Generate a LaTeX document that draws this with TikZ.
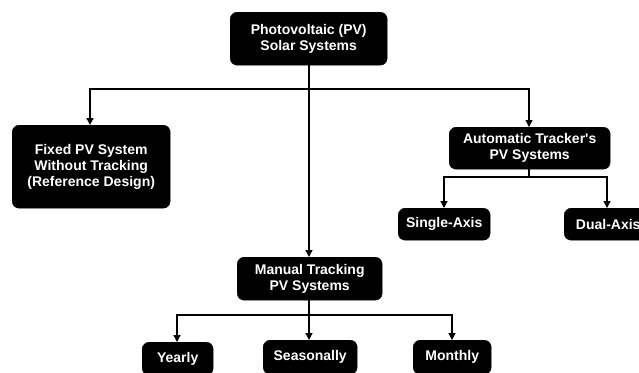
\documentclass[tikz,border=0pt]{standalone}
\usepackage{fontspec}
\setmainfont{Liberation Sans}
\usetikzlibrary{arrows.meta}
\begin{document}
\begin{tikzpicture}[x=1pt,y=-1pt,
  box/.style={draw=black,fill=black,text=white,rounded corners=7pt,font=\bfseries\fontsize{14}{16}\selectfont,align=center,inner sep=0pt,anchor=north west},
  conn/.style={line width=1.3pt,draw=black},
  arr/.style={conn,-{Triangle[length=7pt,width=7pt]}}]
\useasboundingbox (0,0) rectangle (639,372);
\clip (0,0) rectangle (639,372);
\node[box,minimum width=157pt,minimum height=53pt] (pv) at (230,12) {Photovoltaic (PV)\\Solar Systems};
\node[box,minimum width=158pt,minimum height=83pt] (fixed) at (12,125) {Fixed PV System\\Without Tracking\\(Reference Design)};
\node[box,minimum width=161pt,minimum height=42pt] (auto) at (449,127) {Automatic Tracker\textquotesingle s\\PV Systems};
\node[box,minimum width=92pt,minimum height=32pt] (single) at (398,208) {Single-Axis};
\node[box,minimum width=88pt,minimum height=32pt] (dual) at (564,208) {Dual-Axis};
\node[box,minimum width=145pt,minimum height=43pt] (manual) at (237,257) {Manual Tracking\\PV Systems};
\node[box,minimum width=71pt,minimum height=33pt] (yearly) at (142,342) {Yearly};
\node[box,minimum width=94pt,minimum height=34pt] (season) at (263,340) {Seasonally};
\node[box,minimum width=78pt,minimum height=34pt] (monthly) at (413,340) {Monthly};
\coordinate (j1) at (309,89);
\coordinate (j2) at (529,177);
\coordinate (j3) at (309,315);
\draw[conn] (pv.south -| j1) -- (j1);
\draw[arr] (j1) -| (fixed.north -| 90,0);
\draw[arr] (j1) -| (auto.north -| j2);
\draw[arr] (j1) -- (manual.north -| j1);
\draw[conn] (auto.south -| j2) -- (j2);
\draw[arr] (j2) -| (single.north -| 444,0);
\draw[arr] (j2) -| (dual.north -| 607,0);
\draw[conn] (manual.south -| j3) -- (j3);
\draw[arr] (j3) -| (yearly.north -| 177,0);
\draw[arr] (j3) -- (season.north -| j3);
\draw[arr] (j3) -| (monthly.north -| 452,0);
\end{tikzpicture}
\end{document}
